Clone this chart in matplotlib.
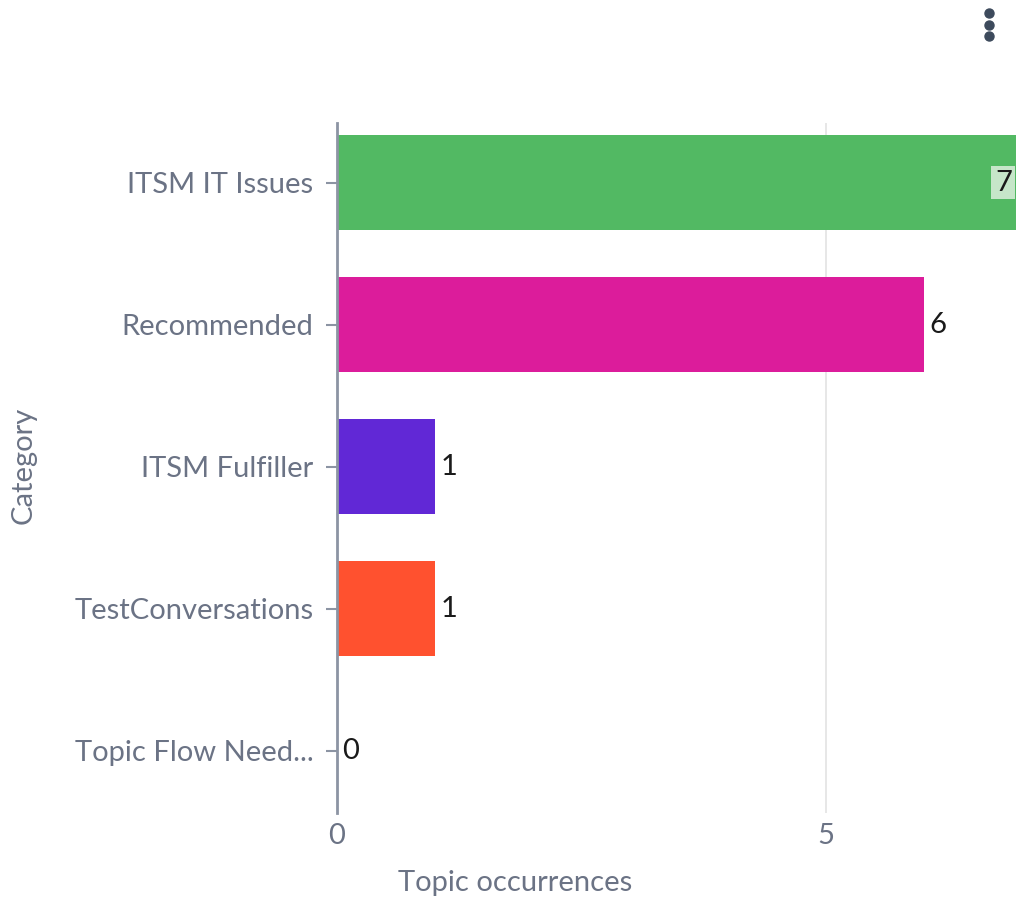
import matplotlib.pyplot as plt
from matplotlib.lines import Line2D

categories = ["ITSM IT Issues", "Recommended", "ITSM Fulfiller", "TestConversations", "Topic Flow Need..."]
values = [7, 6, 1, 1, 0]
colors = ["#52B963", "#DC1C9B", "#6128D6", "#FF512F", "#9AA0AA"]

plt.rcParams['font.family'] = ['Lato', 'DejaVu Sans']

fig = plt.figure(figsize=(10.16, 9.01), dpi=100)
ax = fig.add_axes([337 / 1016, 88 / 901, 1 - 337 / 1016, 690 / 901])

pos = list(range(len(categories)))
ax.barh(pos, values, height=0.67, color=colors, zorder=2)

xmax = 6.94
ax.set_xlim(0, xmax)
ax.set_ylim(4.44, -0.42)

# value labels
for p, v in zip(pos, values):
    if v > xmax - 0.3:
        ax.annotate(str(v), (xmax, p), xytext=(-3, 0), textcoords="offset points",
                    ha="right", va="center", fontsize=21, color="#1a1a1a",
                    bbox=dict(boxstyle="square,pad=0.12", fc="#C6E6C9", ec="none"))
    else:
        ax.annotate(str(v), (v, p), xytext=(4, 0), textcoords="offset points",
                    ha="left", va="center", fontsize=21, color="#1a1a1a")

ax.set_yticks(pos)
ax.set_yticklabels(categories)
ax.set_xticks([0, 5])
ax.grid(axis="x", color="#E3E3E3", linewidth=1.2, zorder=0)

for s in ["top", "right", "bottom"]:
    ax.spines[s].set_visible(False)
ax.spines["left"].set_color("#8C94A3")
ax.spines["left"].set_linewidth(2)
ax.spines["left"].set_zorder(3)

ax.tick_params(axis="y", length=8, width=1.5, color="#8C94A3", labelsize=21,
               labelcolor="#6B7385", pad=9)
ax.tick_params(axis="x", length=0, labelsize=21, labelcolor="#6B7385", pad=7)

ax.set_xlabel("Topic occurrences", fontsize=21, color="#6B7385", va="center")
ax.xaxis.set_label_coords((515 - 337) / (1016 - 337), -(883 - 813) / 690)
ax.set_ylabel("Category", fontsize=21, color="#6B7385", va="center")
ax.yaxis.set_label_coords(-(337 - 24) / (1016 - 337), (813 - 465) / 690)

# menu dots (kebab icon)
for yy in (13, 25, 36):
    fig.add_artist(Line2D([989 / 1016], [1 - yy / 901], marker="o", markersize=6.5,
                          color="#3D4A5C", transform=fig.transFigure))

fig.savefig("out.png", dpi=100)
